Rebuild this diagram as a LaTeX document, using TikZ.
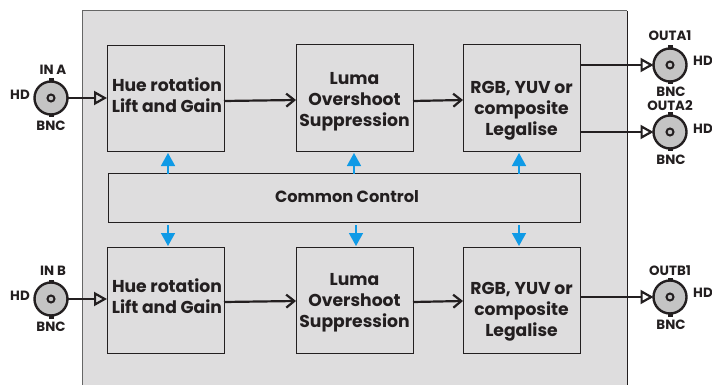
\documentclass[tikz,border=0pt]{standalone}
\usepackage{fontspec}
\setmainfont{Poppins}
\usetikzlibrary{arrows.meta}
\definecolor{panelgray}{HTML}{DEDDDE}
\definecolor{bncgray}{HTML}{C4C4C4}
\definecolor{ctrlblue}{HTML}{0F9AE6}
\definecolor{inkblack}{HTML}{231F20}
\tikzset{
 block/.style={draw=inkblack,line width=1pt,fill=panelgray,outer sep=0pt,inner sep=0pt,minimum width=117pt,minimum height=106pt},
 blocktext/.style={text=inkblack,align=center,inner sep=0pt,font=\fontsize{17.2}{21}\selectfont\bfseries},
 bnc/.style={circle,draw=inkblack,line width=2.4pt,fill=bncgray,minimum size=33pt,inner sep=0pt,outer sep=0pt},
 bnchole/.style={circle,draw=inkblack,line width=2pt,fill=bncgray,minimum size=7pt,inner sep=0pt},
 bnclabel/.style={text=inkblack,inner sep=0pt,font=\fontsize{13.4}{14}\selectfont\bfseries},
 signal/.style={draw=inkblack,line width=2.2pt,-{Straight Barb[length=8pt,width=13pt,line width=2.2pt]}},
 bncsignal/.style={draw=inkblack,line width=2.8pt,-{Triangle[open,length=13pt,width=14pt,line width=2.2pt]}},
 ctrlarrow/.style={draw=ctrlblue,line width=1.6pt,-{Triangle[length=13pt,width=14pt]}},
}
\begin{document}
\begin{tikzpicture}[x=1pt,y=-1pt]
 \useasboundingbox (0,0) rectangle (712,385);
 \fill[panelgray] (82,385) rectangle (627,11);
 \draw[black!60,line width=1pt] (82,385)--(82,11)--(627,11);
 \draw[inkblack,line width=.8pt] (627,11)--(627,385);

 \node[block] (huea) at (165.5,99) {};
 \node[block,minimum height=107pt] (lumaa) at (354.5,98.5) {};
 \node[block,minimum height=107pt] (lega) at (521.5,98.5) {};
 \node[block,minimum width=472pt,minimum height=49pt] (ctrl) at (344,198) {};
 \node[block] (hueb) at (165.5,300) {};
 \node[block] (lumab) at (354.5,300) {};
 \node[block] (legb) at (521.5,300) {};

 \node[blocktext] (hueatext) at (167,95) {Hue rotation\\Lift and Gain};
 \node[blocktext] (lumaatext) at (354.5,102) {Luma\\Overshoot\\Suppression};
 \node[blocktext] (legatext) at (521.5,111) {RGB, YUV or\\composite\\Legalise};
 \node[blocktext,font=\fontsize{16.2}{21}\selectfont\bfseries] (ctrltext) at (347,197) {Common Control};
 \node[blocktext] (huebtext) at (167,296) {Hue rotation\\Lift and Gain};
 \node[blocktext] (lumabtext) at (354.5,303) {Luma\\Overshoot\\Suppression};
 \node[blocktext] (legbtext) at (521.5,312) {RGB, YUV or\\composite\\Legalise};

 \foreach \name/\xx/\yy in {ina/51/98,inb/51/299,outa/670/65,outc/670/132,outb/670/297}{
  \node[bnc] (\name) at (\xx,\yy) {};
  \node[bnchole] (\name hole) at (\name) {};
  \draw[inkblack,line width=5pt] (\name.north) -- ++(0,-3);
  \draw[inkblack,line width=5pt] (\name.south) -- ++(0,3);
 }

 \node[bnclabel] (inalabel) at (53,70) {IN A};
 \node[bnclabel] (inahd) at (20,95) {HD};
 \node[bnclabel] (inabnc) at (51,126) {BNC};
 \node[bnclabel] (inblabel) at (53,271) {IN B};
 \node[bnclabel] (inbhd) at (20,296) {HD};
 \node[bnclabel] (inbbnc) at (51,327) {BNC};
 \node[bnclabel] (outalabel) at (670,36) {OUTA1};
 \node[bnclabel] (outahd) at (703,61) {HD};
 \node[bnclabel] (outabnc) at (671,92) {BNC};
 \node[bnclabel] (outclabel) at (670,106) {OUTA2};
 \node[bnclabel] (outchd) at (703,129) {HD};
 \node[bnclabel] (outcbnc) at (671,160) {BNC};
 \node[bnclabel] (outblabel) at (670,271) {OUTB1};
 \node[bnclabel] (outbhd) at (703,293) {HD};
 \node[bnclabel] (outbbnc) at (671,325) {BNC};

 \draw[bncsignal] (ina) -- (huea.west |- ina);
 \draw[bncsignal] (inb) -- (hueb.west |- inb);
 \draw[bncsignal] (lega.east |- outa) -- (outa);
 \draw[bncsignal] (lega.east |- outc) -- (outc);
 \draw[bncsignal] (legb.east |- outb) -- (outb);

 \draw[signal] (huea.east |- 0,101) -- (lumaa.west |- 0,100);
 \draw[signal] (lumaa.east |- 0,101) -- (lega.west |- 0,100);
 \draw[signal] (hueb.east |- 0,302) -- (lumab.west |- 0,301);
 \draw[signal] (lumab.east |- 0,302) -- (legb.west |- 0,301);

 \foreach \xx in {168,354,519}{
  \draw[ctrlarrow] (\xx,0 |- ctrl.north) -- (\xx,153);
 }
 \foreach \xx in {168,356,519}{
  \draw[ctrlarrow] (\xx,225) -- (\xx,246);
 }
\end{tikzpicture}
\end{document}
